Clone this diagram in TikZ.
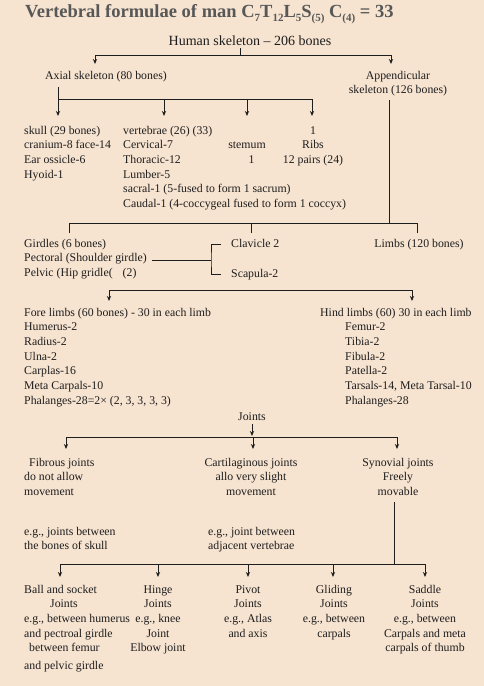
\documentclass[tikz,border=0pt]{standalone}
\usepackage{fontspec}
\setmainfont{Liberation Serif}
\usetikzlibrary{arrows.meta}
\definecolor{bgc}{RGB}{246,227,208}
\definecolor{ink}{RGB}{30,30,30}
\definecolor{ttl}{RGB}{88,88,88}
\newcommand{\tsub}[1]{\raisebox{-0.45ex}{\fontsize{11}{11}\selectfont #1}}
\begin{document}
\begin{tikzpicture}[x=1pt,y=-1pt,
  txt/.style={inner sep=0pt,text=ink,font=\fontsize{11.8}{14.7}\selectfont},
  lt/.style={txt,anchor=base west,align=left},
  ct/.style={txt,anchor=base,align=center},
  ln/.style={draw=ink,line width=0.9pt},
  ar/.style={ln,-{Stealth[length=5pt,width=4.2pt]}}]
\fill[bgc] (0,0) rectangle (484,686);
\useasboundingbox (0,0) rectangle (484,686);
% title (multi-line nodes below are anchored at the baseline of their last line)
\node[inner sep=0pt,anchor=base west,text=ttl,font=\fontsize{18.5}{18.5}\selectfont\bfseries] (title) at (25,17.5)
 {Vertebral formulae of man C\tsub{7}T\tsub{12}L\tsub{5}S\tsub{(5)} C\tsub{(4)} = 33};
\node[txt,anchor=base,font=\fontsize{14}{15}\selectfont] (human) at (250,45.5) {Human skeleton -- 206 bones};
\node[lt] (axial) at (45,79) {Axial skeleton (80 bones)};
\node[ct] (append) at (398,93.7) {Appendicular\\skeleton (126 bones)};
\coordinate (h0) at (240,48); \coordinate (h1) at (240,55);
\coordinate (hla) at (95,64); \coordinate (hra) at (391,64);
\draw[ln] (h0) -- (h1);
\draw[ar] (h1) -| (hla);
\draw[ar] (h1) -| (hra);
% axial branches
\coordinate (a0) at (58,87); \coordinate (a1) at (58,99); \coordinate (a4) at (312,99);
\coordinate (a2) at (164,99); \coordinate (a3) at (247,99);
\coordinate (a1t) at (58,116); \coordinate (a2t) at (164,116); \coordinate (a3t) at (247,116); \coordinate (a4t) at (312,116);
\draw[ln] (a0) -- (a1) -- (a4);
\draw[ar] (a1) -- (a1t);
\draw[ar] (a2) -- (a2t);
\draw[ar] (a3) -- (a3t);
\draw[ar] (a4) -- (a4t);
\node[lt] (skull) at (24,178.1) {skull (29 bones)\\cranium-8 face-14\\Ear ossicle-6\\Hyoid-1};
\node[lt] (vert) at (123,207.5) {vertebrae (26) (33)\\Cervical-7\\Thoracic-12\\Lumber-5\\sacral-1 (5-fused to form 1 sacrum)\\Caudal-1 (4-coccygeal fused to form 1 coccyx)};
\node[ct] (stern) at (247,163.4) {stemum\\\hspace*{9pt}1};
\node[ct] (ribs) at (313,163.4) {1\\Ribs\\12 pairs (24)};
% appendicular
\coordinate (p0) at (389,100); \coordinate (p1) at (389,223);
\coordinate (g0) at (69,223); \coordinate (g2) at (417,223); \coordinate (gm) at (251,223);
\coordinate (g0b) at (69,233); \coordinate (gmb) at (251,233); \coordinate (g2b) at (417,233);
\draw[ln] (p0) -- (p1);
\draw[ln] (g0b) -- (g0) -- (g2) -- (g2b);
\draw[ln] (gm) -- (gmb);
\node[lt] (gird) at (24,276.4) {Girdles (6 bones)\\Pectoral (Shoulder girdle)\\Pelvic (Hip gridle(\hspace*{10pt}(2)};
\node[lt] (clav) at (231,247) {Clavicle 2};
\node[lt] (scap) at (231,277) {Scapula-2};
\node[ct] (limbs) at (419,247) {Limbs (120 bones)};
\coordinate (b0) at (152,260); \coordinate (b1) at (211,260);
\coordinate (bt) at (221,244); \coordinate (bb) at (221,274);
\draw[ln] (b0) -- (b1);
\draw[ln] (bt) -| (b1) |- (bb);
% fore/hind
\coordinate (f0) at (109,290); \coordinate (f1) at (412,290);
\coordinate (f0b) at (109,301); \coordinate (f1b) at (412,301);
\draw[ar] (f0) -- (f0b);
\draw[ar] (f1) -- (f1b);
\draw[ln] (f0) -- (f1);
\node[lt] (fore) at (24,404.2) {Fore limbs (60 bones) - 30 in each limb\\Humerus-2\\Radius-2\\Ulna-2\\Carplas-16\\Meta Carpals-10\\Phalanges-28=2× (2, 3, 3, 3, 3)};
\node[lt] (hind) at (320,316) {Hind limbs (60) 30 in each limb};
\node[lt] (hindl) at (345,404.2) {Femur-2\\Tibia-2\\Fibula-2\\Patella-2\\Tarsals-14, Meta Tarsal-10\\Phalanges-28};
% joints
\node[ct] (joints) at (252,420) {Joints};
\coordinate (j0) at (252,424); \coordinate (j1) at (252,436);
\draw[ar] (j0) -- (j1);
\coordinate (k0) at (66,437); \coordinate (k1) at (253,437); \coordinate (k2) at (397,437);
\coordinate (k0b) at (66,449); \coordinate (k1b) at (253,449); \coordinate (k2b) at (397,449);
\draw[ln] (k0) -- (k2);
\draw[ar] (k0) -- (k0b);
\draw[ar] (k1) -- (k1b);
\draw[ar] (k2) -- (k2b);
\node[lt] (fib) at (24,495.4) {\hspace*{5pt}Fibrous joints\\do not allow\\movement};
\node[ct] (cart) at (251,495.4) {Cartilaginous joints\\allo very slight\\movement};
\node[ct] (syn) at (398,495.4) {Synovial joints\\Freely\\movable};
\node[lt] (fibeg) at (24,549.7) {e.g., joints between\\the bones of skull};
\node[lt] (carteg) at (208,549.7) {e.g., joint between\\adjacent vertebrae};
\coordinate (s0) at (394,502); \coordinate (s1) at (394,564);
\draw[ln] (s0) -- (s1);
% synovial types
\coordinate (t1) at (60,564); \coordinate (t2) at (158,564); \coordinate (t3) at (248,564); \coordinate (t4) at (333,564); \coordinate (t5) at (425,564);
\coordinate (t1b) at (60,577); \coordinate (t2b) at (158,577); \coordinate (t3b) at (248,577); \coordinate (t4b) at (333,577); \coordinate (t5b) at (425,577);
\draw[ln] (t1) -- (t5);
\foreach \i in {1,...,5} {\draw[ar] (t\i) -- (t\i b);}
\node[lt] (ball) at (24,669.5) {Ball and socket\\\hspace*{26pt}Joints\\e.g., between humerus\\and pectroal girdle\\\hspace*{5pt}between femur\\[3pt]and pelvic girdle};
\node[ct] (hinge) at (158,651.8) {Hinge\\Joints\\e.g., knee\\Joint\\Elbow joint};
\node[ct] (pivot) at (248,637.1) {Pivot\\Joints\\e.g., Atlas\\and axis};
\node[ct] (glid) at (334,637.1) {Gliding\\Joints\\e.g., between\\carpals};
\node[ct] (sadd) at (425,651.8) {Saddle\\Joints\\e.g., between\\Carpals and meta\\carpals of thumb};
\end{tikzpicture}
\end{document}
